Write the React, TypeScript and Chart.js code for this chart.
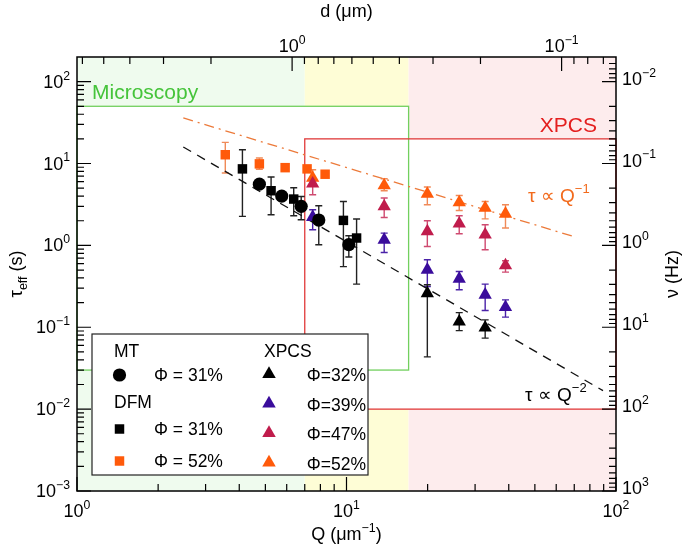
import React, { useEffect, useRef } from 'react';
import { Chart, registerables } from 'chart.js';

Chart.register(...registerables);

const FONT = '"Liberation Sans", Arial, Helvetica, sans-serif';

// ---------------- data (Q in µm^-1, tau in s) ----------------
// MT, Phi = 31%
const mtQ = [4.75, 5.75, 6.79, 7.89, 10.2];
const mtTau = [5.6, 4.0, 3.0, 2.04, 1.02];
const mtLow = [NaN, NaN, 2.06, 1.02, 0.72];
const mtHigh = [NaN, NaN, 3.96, 3.05, 1.31];

// DFM, Phi = 31%
const dfm31Q = [4.11, 5.25, 6.37, 9.74, 10.9];
const dfm31Tau = [8.6, 4.65, 3.68, 2.02, 1.23];
const dfm31Low = [2.26, 2.37, 2.3, 0.55, 0.336];
const dfm31High = [14.7, 6.84, 5.06, 3.44, 2.1];

// DFM, Phi = 52%
const dfm52Q = [3.55, 4.75, 5.92, 7.14, 8.33];
const dfm52Tau = [12.8, 9.9, 8.9, 8.6, 7.4];
const dfm52Low = [7.65, 8.5, NaN, NaN, NaN];
const dfm52High = [18.1, 11.7, NaN, NaN, NaN];

// XPCS
const xpcs32Q = [19.95, 26.2, 32.7];
const xpcs32Tau = [0.26, 0.117, 0.099];
const xpcs32Low = [0.0435, 0.091, 0.0736];
const xpcs32High = [0.33, 0.151, 0.123];

const xpcsQ = [7.49, 13.8, 19.95, 26.2, 32.7, 38.9];
const xpcs39Tau = [2.22, 1.17, 0.503, 0.391, 0.249, 0.176];
const xpcs39Low = [1.55, 0.82, 0.315, 0.287, 0.16, 0.133];
const xpcs39High = [2.72, 1.41, 0.667, 0.48, 0.336, 0.216];

const xpcs47Tau = [5.66, 2.99, 1.48, 1.84, 1.35, 0.568];
const xpcs47Low = [4.15, 2.19, 0.97, 1.39, 0.883, 0.472];
const xpcs47High = [6.34, 3.79, 2.0, 2.3, 1.79, 0.649];

const xpcs52Tau = [6.65, 5.4, 4.24, 3.35, 2.86, 2.43];
const xpcs52Low = [5.5, 4.65, 3.14, 2.67, 2.11, 1.63];
const xpcs52High = [8.4, 6.52, 5.16, 4.07, 3.44, 3.14];

// guide lines (end points)
const q2LineQ = [2.48, 89.5];
const q2LineTau = [15.9, 0.0168];
const q1LineQ = [2.48, 71.4];
const q1LineTau = [36, 1.25];

// technique windows
const microscopyQ = [1, 17];
const microscopyTau = [0.03, 50];
const xpcsWinQ = [7, 100];
const xpcsWinTau = [0.01, 20];
const columnBounds = [1, 7, 17, 100];

// axes
const qRange = [1, 100];
const tauRange = [0.001, 200];
const qMajor = [1, 10, 100];
const qMajorExp = ['0', '1', '2'];
const tauMajor = [0.001, 0.01, 0.1, 1, 10, 100];
const tauMajorExp = ['\u22123', '\u22122', '\u22121', '0', '1', '2'];
const nuMajor = [0.01, 0.1, 1, 10, 100, 1000];
const nuMajorExp = ['\u22122', '\u22121', '0', '1', '2', '3'];
const dMajor = [1, 0.1];
const dMajorExp = ['0', '\u22121'];
const TWO_PI = 2 * Math.PI;

// ---------------- styles ----------------
const C_ORANGE = '#ff5a0a';
const C_CRIMSON = '#c01c4c';
const C_PURPLE = '#3a0c9c';

type Series = {
  label: string; q: number[]; tau: number[]; lo: number[]; hi: number[];
  color: string; err: string; shape: 'circle' | 'rect' | 'triangle'; r: number;
};

const SERIES: Series[] = [
  { label: 'DFM 52%', q: dfm52Q, tau: dfm52Tau, lo: dfm52Low, hi: dfm52High, color: C_ORANGE, err: '#f08a58', shape: 'rect', r: 6.7 },
  { label: 'XPCS 52%', q: xpcsQ, tau: xpcs52Tau, lo: xpcs52Low, hi: xpcs52High, color: C_ORANGE, err: '#f08a58', shape: 'triangle', r: 7.7 },
  { label: 'XPCS 47%', q: xpcsQ, tau: xpcs47Tau, lo: xpcs47Low, hi: xpcs47High, color: C_CRIMSON, err: '#cf4a70', shape: 'triangle', r: 7.7 },
  { label: 'XPCS 39%', q: xpcsQ, tau: xpcs39Tau, lo: xpcs39Low, hi: xpcs39High, color: C_PURPLE, err: '#4a22a8', shape: 'triangle', r: 7.7 },
  { label: 'XPCS 32%', q: xpcs32Q, tau: xpcs32Tau, lo: xpcs32Low, hi: xpcs32High, color: '#000000', err: '#222222', shape: 'triangle', r: 7.7 },
  { label: 'DFM 31%', q: dfm31Q, tau: dfm31Tau, lo: dfm31Low, hi: dfm31High, color: '#000000', err: '#222222', shape: 'rect', r: 6.7 },
  { label: 'MT 31%', q: mtQ, tau: mtTau, lo: mtLow, hi: mtHigh, color: '#000000', err: '#222222', shape: 'circle', r: 6.6 },
];

type Part = { t: string; s: number; dy?: number };

function drawRich(ctx: CanvasRenderingContext2D, parts: Part[], x: number, y: number, align: 'left' | 'center' | 'right', color: string) {
  let w = 0;
  const widths = parts.map((p) => {
    ctx.font = `${p.s}px ${FONT}`;
    const m = ctx.measureText(p.t).width;
    w += m;
    return m;
  });
  let cx = align === 'center' ? x - w / 2 : align === 'right' ? x - w : x;
  ctx.fillStyle = color;
  ctx.textAlign = 'left';
  ctx.textBaseline = 'alphabetic';
  parts.forEach((p, i) => {
    ctx.font = `${p.s}px ${FONT}`;
    ctx.fillText(p.t, cx, y + (p.dy || 0));
    cx += widths[i];
  });
}

const pow = (e: string, s = 18): Part[] => [
  { t: '10', s },
  { t: e, s: s * 0.68, dy: -s * 0.45 },
];

function marker(ctx: CanvasRenderingContext2D, shape: string, x: number, y: number, r: number, color: string) {
  ctx.fillStyle = color;
  ctx.beginPath();
  if (shape === 'circle') ctx.arc(x, y, r, 0, Math.PI * 2);
  else if (shape === 'rect') {
    const s = r * Math.SQRT1_2;
    ctx.rect(x - s, y - s, 2 * s, 2 * s);
  } else {
    ctx.moveTo(x, y - r);
    ctx.lineTo(x + r * 0.866, y + r / 2);
    ctx.lineTo(x - r * 0.866, y + r / 2);
    ctx.closePath();
  }
  ctx.fill();
}

function minorTicks(min: number, max: number): number[] {
  const out: number[] = [];
  for (let k = Math.floor(Math.log10(min)); k <= Math.ceil(Math.log10(max)); k++) {
    for (let m = 2; m <= 9; m++) {
      const v = m * Math.pow(10, k);
      if (v > min * 1.0001 && v < max * 0.9999) out.push(v);
    }
  }
  return out;
}

const customPlugin = {
  id: 'customDecor',
  beforeDatasetsDraw(chart: any) {
    const { ctx, chartArea: a, scales } = chart;
    const X = (v: number) => scales.x.getPixelForValue(v);
    const Y = (v: number) => scales.y.getPixelForValue(v);
    ctx.save();
    // column shading
    const cols = ['#effbee', '#fefdd6', '#fdeced'];
    for (let i = 0; i < 3; i++) {
      ctx.fillStyle = cols[i];
      const x0 = X(columnBounds[i]);
      const x1 = X(columnBounds[i + 1]);
      ctx.fillRect(x0, a.top, x1 - x0, a.bottom - a.top);
    }
    // white interiors of the windows
    ctx.fillStyle = '#ffffff';
    ctx.fillRect(X(microscopyQ[0]), Y(microscopyTau[1]), X(microscopyQ[1]) - X(microscopyQ[0]), Y(microscopyTau[0]) - Y(microscopyTau[1]));
    ctx.fillRect(X(xpcsWinQ[0]), Y(xpcsWinTau[1]), X(xpcsWinQ[1]) - X(xpcsWinQ[0]), Y(xpcsWinTau[0]) - Y(xpcsWinTau[1]));
    // outlines
    ctx.lineWidth = 1.3;
    ctx.strokeStyle = '#72d05e';
    ctx.strokeRect(X(microscopyQ[0]), Y(microscopyTau[1]), X(microscopyQ[1]) - X(microscopyQ[0]), Y(microscopyTau[0]) - Y(microscopyTau[1]));
    ctx.strokeStyle = '#e03a3a';
    ctx.strokeRect(X(xpcsWinQ[0]), Y(xpcsWinTau[1]), X(xpcsWinQ[1]) - X(xpcsWinQ[0]), Y(xpcsWinTau[0]) - Y(xpcsWinTau[1]));
    // window labels
    drawRich(ctx, [{ t: 'Microscopy', s: 21 }], a.left + 15, Y(microscopyTau[1]) - 7, 'left', '#45c43a');
    drawRich(ctx, [{ t: 'XPCS', s: 21 }], a.right - 19, Y(xpcsWinTau[1]) - 7, 'right', '#e41e1e');
    // error bars
    SERIES.forEach((s) => {
      ctx.strokeStyle = s.err;
      ctx.lineWidth = 1.4;
      s.q.forEach((q, i) => {
        if (!isFinite(s.lo[i]) || !isFinite(s.hi[i])) return;
        const x = X(q);
        const y0 = Y(s.lo[i]);
        const y1 = Y(s.hi[i]);
        ctx.beginPath();
        ctx.moveTo(x, y0); ctx.lineTo(x, y1);
        ctx.moveTo(x - 3.5, y0); ctx.lineTo(x + 3.5, y0);
        ctx.moveTo(x - 3.5, y1); ctx.lineTo(x + 3.5, y1);
        ctx.stroke();
      });
    });
    ctx.restore();
  },
  afterDraw(chart: any) {
    const { ctx, chartArea: a, scales } = chart;
    const X = (v: number) => scales.x.getPixelForValue(v);
    const Y = (v: number) => scales.y.getPixelForValue(v);
    const X2 = (v: number) => scales.x2.getPixelForValue(v);
    const Y2 = (v: number) => scales.y2.getPixelForValue(v);
    ctx.save();

    // annotations
    drawRich(ctx, [{ t: '\u03c4 \u221d Q', s: 19 }, { t: '\u22121', s: 13, dy: -9 }], 528, 202, 'left', '#f26a1c');
    drawRich(ctx, [{ t: '\u03c4 \u221d Q', s: 19 }, { t: '\u22122', s: 13, dy: -9 }], 525, 401, 'left', '#000000');

    // legend
    const lx = 92, ly = 334, lw = 276, lh = 141;
    ctx.fillStyle = '#ffffff';
    ctx.fillRect(lx, ly, lw, lh);
    ctx.strokeStyle = '#222';
    ctx.lineWidth = 1.2;
    ctx.strokeRect(lx, ly, lw, lh);
    const fs = 17.5;
    drawRich(ctx, [{ t: 'MT', s: fs }], 114, 357, 'left', '#000');
    marker(ctx, 'circle', 119.5, 375, 6.6, '#000');
    drawRich(ctx, [{ t: '\u03a6 = 31%', s: fs }], 154, 381, 'left', '#000');
    drawRich(ctx, [{ t: 'DFM', s: fs }], 114, 408, 'left', '#000');
    marker(ctx, 'rect', 119.5, 429, 6.7, '#000');
    drawRich(ctx, [{ t: '\u03a6 = 31%', s: fs }], 154, 435, 'left', '#000');
    marker(ctx, 'rect', 119.5, 461, 6.7, C_ORANGE);
    drawRich(ctx, [{ t: '\u03a6 = 52%', s: fs }], 154, 467, 'left', '#000');
    drawRich(ctx, [{ t: 'XPCS', s: fs }], 264, 357, 'left', '#000');
    const tri = [['#000000', '\u03a6=32%'], [C_PURPLE, '\u03a6=39%'], [C_CRIMSON, '\u03a6=47%'], [C_ORANGE, '\u03a6=52%']];
    tri.forEach(([c, t], i) => {
      const yc = 374 + i * 29.5;
      marker(ctx, 'triangle', 269, yc, 7.8, c);
      drawRich(ctx, [{ t, s: fs }], 366, yc + 7, 'right', '#000');
    });

    // frame
    ctx.strokeStyle = '#000';
    ctx.lineWidth = 1.5;
    ctx.strokeRect(a.left, a.top, a.right - a.left, a.bottom - a.top);

    // ticks
    const MAJ = 14, MIN = 7;
    ctx.lineWidth = 1.2;
    ctx.beginPath();
    qMajor.forEach((v) => { const x = X(v); ctx.moveTo(x, a.bottom); ctx.lineTo(x, a.bottom - MAJ); });
    minorTicks(qRange[0], qRange[1]).forEach((v) => { const x = X(v); ctx.moveTo(x, a.bottom); ctx.lineTo(x, a.bottom - MIN); });
    tauMajor.forEach((v) => { const y = Y(v); ctx.moveTo(a.left, y); ctx.lineTo(a.left + MAJ, y); });
    minorTicks(tauRange[0], tauRange[1]).forEach((v) => { const y = Y(v); ctx.moveTo(a.left, y); ctx.lineTo(a.left + MIN, y); });
    dMajor.forEach((v) => { const x = X2(v); ctx.moveTo(x, a.top); ctx.lineTo(x, a.top + MAJ); });
    minorTicks(TWO_PI / qRange[1], TWO_PI / qRange[0]).forEach((v) => { const x = X2(v); ctx.moveTo(x, a.top); ctx.lineTo(x, a.top + MIN); });
    nuMajor.forEach((v) => { const y = Y2(v); ctx.moveTo(a.right, y); ctx.lineTo(a.right - MAJ, y); });
    minorTicks(1 / tauRange[1], 1 / tauRange[0]).forEach((v) => { const y = Y2(v); ctx.moveTo(a.right, y); ctx.lineTo(a.right - MIN, y); });
    ctx.stroke();

    // tick labels
    qMajor.forEach((v, i) => drawRich(ctx, pow(qMajorExp[i]), X(v), a.bottom + 26, 'center', '#000'));
    tauMajor.forEach((v, i) => drawRich(ctx, pow(tauMajorExp[i]), a.left - 7, Y(v) + 6, 'right', '#000'));
    dMajor.forEach((v, i) => drawRich(ctx, pow(dMajorExp[i]), X2(v), a.top - 5, 'center', '#000'));
    nuMajor.forEach((v, i) => drawRich(ctx, pow(nuMajorExp[i]), a.right + 6, Y2(v) + 3, 'left', '#000'));

    // axis titles
    drawRich(ctx, [{ t: 'Q (\u03bcm', s: 18 }, { t: '\u22121', s: 12.5, dy: -8 }, { t: ')', s: 18 }], (a.left + a.right) / 2, 540, 'center', '#000');
    drawRich(ctx, [{ t: 'd (\u03bcm)', s: 18 }], (a.left + a.right) / 2, 17, 'center', '#000');
    ctx.save();
    ctx.translate(22, (a.top + a.bottom) / 2);
    ctx.rotate(-Math.PI / 2);
    drawRich(ctx, [{ t: '\u03c4', s: 19 }, { t: 'eff', s: 12.5, dy: 5 }, { t: ' (s)', s: 18 }], 0, 0, 'center', '#000');
    ctx.restore();
    ctx.save();
    ctx.translate(678, (a.top + a.bottom) / 2);
    ctx.rotate(-Math.PI / 2);
    drawRich(ctx, [{ t: '\u03bd (Hz)', s: 18 }], 0, 0, 'center', '#000');
    ctx.restore();

    ctx.restore();
  },
};

const hiddenScale = (extra: any) => ({
  type: 'logarithmic',
  ticks: { display: false },
  grid: { display: false, drawTicks: false },
  border: { display: false },
  title: { display: false },
  ...extra,
});

export default function App() {
  const ref = useRef<HTMLCanvasElement>(null);
  useEffect(() => {
    if (!ref.current) return;
    const datasets: any[] = SERIES.map((s, k) => ({
      type: 'scatter',
      label: s.label,
      data: s.q.map((q, i) => ({ x: q, y: s.tau[i] })),
      pointStyle: s.shape,
      pointRadius: s.r,
      pointHoverRadius: s.r,
      backgroundColor: s.color,
      borderColor: s.color,
      borderWidth: 0,
      showLine: false,
      order: SERIES.length - k,
      xAxisID: 'x',
      yAxisID: 'y',
    }));
    datasets.push({
      type: 'line',
      label: 'tau ~ Q^-2',
      data: q2LineQ.map((q, i) => ({ x: q, y: q2LineTau[i] })),
      borderColor: '#111',
      borderWidth: 1.3,
      borderDash: [9, 7],
      pointRadius: 0,
      fill: false,
      order: 20,
      xAxisID: 'x',
      yAxisID: 'y',
    });
    datasets.push({
      type: 'line',
      label: 'tau ~ Q^-1',
      data: q1LineQ.map((q, i) => ({ x: q, y: q1LineTau[i] })),
      borderColor: '#ec7a3a',
      borderWidth: 1.3,
      borderDash: [10, 5, 2, 5],
      pointRadius: 0,
      fill: false,
      order: 21,
      xAxisID: 'x',
      yAxisID: 'y',
    });
    const chart = new Chart(ref.current, {
      type: 'scatter',
      data: { datasets },
      options: {
        animation: false,
        responsive: true,
        maintainAspectRatio: false,
        layout: { padding: 0 },
        plugins: { legend: { display: false }, tooltip: { enabled: false } },
        scales: {
          x: hiddenScale({ position: 'bottom', min: qRange[0], max: qRange[1], afterFit: (s: any) => { s.height = 60; } }),
          y: hiddenScale({ position: 'left', min: tauRange[0], max: tauRange[1], afterFit: (s: any) => { s.width = 77; } }),
          x2: hiddenScale({ position: 'top', min: TWO_PI / qRange[1], max: TWO_PI / qRange[0], reverse: true, afterFit: (s: any) => { s.height = 57; } }),
          y2: hiddenScale({ position: 'right', min: 1 / tauRange[1], max: 1 / tauRange[0], reverse: true, afterFit: (s: any) => { s.width = 69; } }),
        },
      } as any,
      plugins: [customPlugin as any],
    });
    return () => chart.destroy();
  }, []);
  return (
    <div style={{ position: 'fixed', left: 0, top: 0, width: 685, height: 551, background: '#fff' }}>
      <canvas ref={ref} />
    </div>
  );
}
